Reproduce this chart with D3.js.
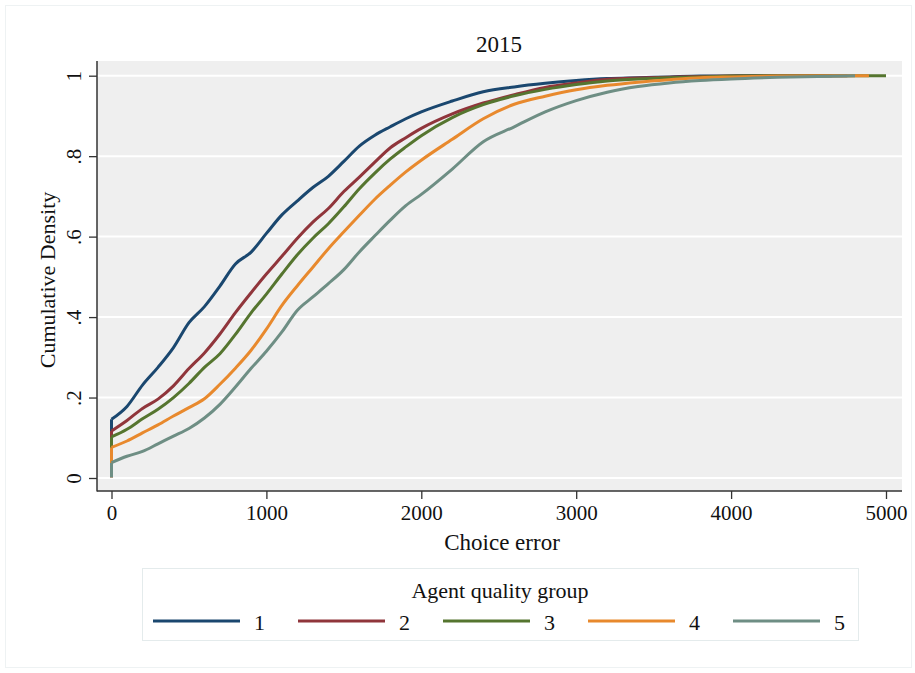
<!DOCTYPE html>
<meta charset="utf-8">
<style>
body { margin: 0; background: #fff; }
text { font-family: "Liberation Serif", "Times New Roman", serif; fill: #111; }
.axis path.domain { display: none; }
.axis line { stroke: #333; stroke-width: 1.3px; }
.axis text { font-size: 21px; }
</style>
<svg width="915" height="673"></svg>
<script src="https://d3js.org/d3.v7.min.js"></script>
<script>
// ECDF readings, choice error grid (x) and cumulative density per agent quality group
var errGrid = [0,100,200,300,400,500,600,700,800,900,1000,1100,1200,1300,1400,1500,1600,1700,1800,1900,2000,
               2200,2400,2600,2800,3000,3200,3400,3600,3800,4000,4300];
var grp1 = [0.146,0.178,0.231,0.275,0.324,0.386,0.426,0.477,0.532,0.561,0.608,0.654,0.689,0.722,0.750,0.787,0.825,0.852,0.873,0.893,0.910,
            0.937,0.960,0.972,0.981,0.988,0.993,0.995,0.997,0.999,0.9995,1.0];
var grp2 = [0.117,0.143,0.173,0.196,0.229,0.272,0.311,0.358,0.411,0.460,0.507,0.551,0.596,0.636,0.670,0.712,0.748,0.785,0.821,0.846,0.869,
            0.905,0.932,0.953,0.971,0.982,0.991,0.994,0.996,0.998,0.999,1.0];
var grp3 = [0.102,0.121,0.147,0.171,0.200,0.235,0.275,0.309,0.357,0.410,0.457,0.507,0.555,0.596,0.632,0.674,0.719,0.758,0.793,0.823,0.851,
            0.896,0.928,0.950,0.966,0.978,0.987,0.992,0.995,0.997,0.999,1.0];
var grp4 = [0.076,0.092,0.112,0.132,0.154,0.175,0.197,0.233,0.273,0.317,0.370,0.429,0.478,0.524,0.570,0.612,0.653,0.693,0.728,0.761,0.790,
            0.842,0.893,0.929,0.949,0.965,0.976,0.984,0.990,0.995,0.997,0.999];
var grp5 = [0.038,0.054,0.066,0.085,0.104,0.123,0.149,0.183,0.226,0.272,0.315,0.363,0.417,0.450,0.483,0.518,0.562,0.602,0.641,0.677,0.705,
            0.768,0.836,0.873,0.910,0.938,0.959,0.973,0.982,0.988,0.992,0.996];
var maxErr = [4650, 4750, 5000, 4890, 4800];   // largest error in each group
var groups = ["1","2","3","4","5"];
var colors = ["#1a476f","#90353b","#55752f","#e8892d","#6e8e84"];
var yTicks = [0, 0.2, 0.4, 0.6, 0.8, 1];
var yLabels = ["0", ".2", ".4", ".6", ".8", "1"];
var xTicks = [0, 1000, 2000, 3000, 4000, 5000];

var svg = d3.select("svg");
var plot = {left: 97, right: 902, top: 61, bottom: 491};

var x = d3.scaleLinear().domain([0, 5000]).range([111.5, 886]);
var y = d3.scaleLinear().domain([0, 1]).range([478, 75.7]);

// faint outer graph border
svg.append("rect").attr("x", 5.5).attr("y", 5.5).attr("width", 906).attr("height", 662)
  .attr("fill", "none").attr("stroke", "#eef2f3");

svg.append("rect").attr("x", plot.left).attr("y", plot.top)
  .attr("width", plot.right - plot.left).attr("height", plot.bottom - plot.top)
  .attr("fill", "#efefef");

svg.selectAll(".grid").data(yTicks).enter().append("line")
  .attr("x1", plot.left).attr("x2", plot.right)
  .attr("y1", function(d) { return y(d); }).attr("y2", function(d) { return y(d); })
  .attr("stroke", "#fff").attr("stroke-width", 2);

// curves: vertical jump at zero error, then the smoothed ecdf
var line = d3.line().x(function(d) { return x(d[0]); }).y(function(d) { return y(d[1]); });
var smooth = d3.line().curve(d3.curveMonotoneX)
  .x(function(d) { return x(d[0]); }).y(function(d) { return y(d[1]); });
var series = [grp1, grp2, grp3, grp4, grp5];
series.forEach(function(vals, i) {
  var pts = errGrid.map(function(e, j) { return [e, vals[j]]; });
  pts.push([maxErr[i], 1]);
  var g = svg.append("g").attr("fill", "none")
    .attr("stroke", colors[i]).attr("stroke-width", 3).attr("stroke-linejoin", "round");
  g.append("path").attr("d", line([[0, 0.002], [0, vals[0]]]));
  g.append("path").attr("d", smooth(pts));
});

// axes
svg.append("line").attr("x1", plot.left).attr("x2", plot.left)
  .attr("y1", plot.top).attr("y2", plot.bottom + 0.5).attr("stroke", "#333").attr("stroke-width", 1.5);
svg.append("line").attr("x1", plot.left).attr("x2", plot.right)
  .attr("y1", plot.bottom).attr("y2", plot.bottom).attr("stroke", "#333").attr("stroke-width", 1.5);

var gx = svg.append("g").attr("class", "axis")
  .attr("transform", "translate(0," + plot.bottom + ")")
  .call(d3.axisBottom(x).tickValues(xTicks).tickSize(8).tickPadding(6).tickFormat(d3.format("d")));
gx.selectAll("text").attr("dy", "0.71em");

var gy = svg.append("g").attr("class", "axis")
  .attr("transform", "translate(" + plot.left + ",0)")
  .call(d3.axisLeft(y).tickValues(yTicks).tickSize(8).tickFormat(function(d, i) { return yLabels[i]; }));
gy.selectAll("text")
  .attr("x", null).attr("dy", null)
  .attr("text-anchor", "middle")
  .attr("transform", "translate(-16,0) rotate(-90)");

// titles
svg.append("text").attr("x", 499).attr("y", 52).attr("text-anchor", "middle")
  .style("font-size", "23px").text("2015");
svg.append("text").attr("x", 502).attr("y", 550).attr("text-anchor", "middle")
  .style("font-size", "23px").text("Choice error");
svg.append("text").attr("transform", "translate(55,280) rotate(-90)").attr("text-anchor", "middle")
  .style("font-size", "22px").text("Cumulative Density");

// legend
var leg = svg.append("g");
leg.append("rect").attr("x", 142.5).attr("y", 568.5).attr("width", 716).attr("height", 72)
  .attr("fill", "#fff").attr("stroke", "#e4ebec");
leg.append("text").attr("x", 500).attr("y", 598).attr("text-anchor", "middle")
  .style("font-size", "22px").text("Agent quality group");
var item = leg.selectAll(".item").data(groups).enter().append("g")
  .attr("transform", function(d, i) { return "translate(" + (153 + i * 145) + ",621)"; });
item.append("line").attr("x1", 0).attr("x2", 87)
  .attr("stroke", function(d, i) { return colors[i]; }).attr("stroke-width", 3);
item.append("text").attr("x", 101).attr("y", 9).style("font-size", "22px")
  .text(function(d) { return d; });
</script>
